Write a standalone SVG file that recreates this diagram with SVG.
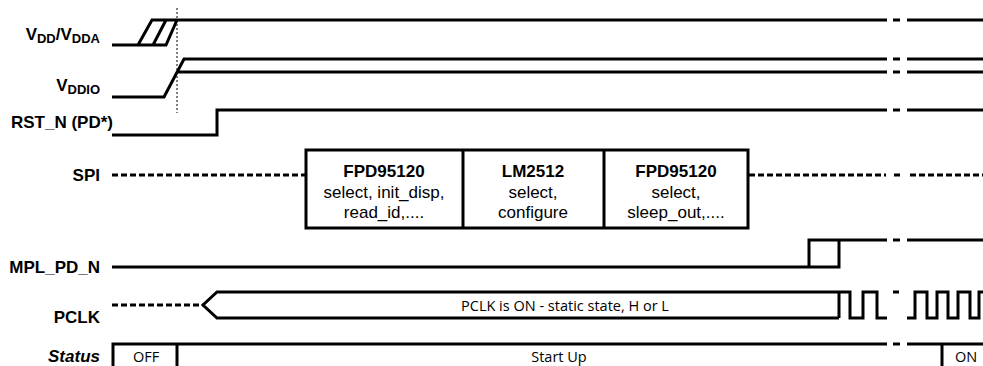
<svg xmlns="http://www.w3.org/2000/svg" width="983" height="366" viewBox="0 0 983 366">
<style>
.w{fill:none;stroke:#000;stroke-width:3;stroke-linejoin:miter}
.d{fill:none;stroke:#000;stroke-width:3;stroke-dasharray:6 3}
.lab{font-family:"Liberation Sans",Arial,sans-serif;font-weight:bold;font-size:17px;fill:#000}
.bt{font-family:"Liberation Sans",Arial,sans-serif;font-weight:bold;font-size:17px;fill:#000;text-anchor:middle}
.nt{font-family:"Liberation Sans",Arial,sans-serif;font-size:17px;fill:#000;text-anchor:middle}
.ct{font-family:"Open Sans","Liberation Sans",sans-serif;font-size:14.5px;fill:#000;text-anchor:middle}
</style>
<rect width="983" height="366" fill="#fff"/>
<g id="labels">
<text class="lab" x="100" y="40" text-anchor="end">V<tspan font-size="13" dy="3">DD</tspan><tspan dy="-3">/V</tspan><tspan font-size="13" dy="3">DDA</tspan></text>
<text class="lab" x="100" y="91" text-anchor="end">V<tspan font-size="13" dy="3">DDIO</tspan></text>
<text class="lab" x="113" y="128" text-anchor="end">RST_N (PD*)</text>
<text class="lab" x="100" y="181" text-anchor="end">SPI</text>
<text class="lab" x="100" y="273" text-anchor="end">MPL_PD_N</text>
<text class="lab" x="100" y="323" text-anchor="end">PCLK</text>
<text class="lab" x="100" y="362" text-anchor="end" font-style="italic">Status</text>
</g>
<g id="connectors">
<line x1="177" y1="8" x2="177" y2="113" stroke="#000" stroke-width="1" stroke-dasharray="2 2"/>
</g>
<g id="vdd">
<path class="w" d="M112 45H166L177 20H887M138 45L152 20H177M153 45L166 20"/>
<path class="w" d="M893 20H900M907 20H983"/>
</g>
<g id="vddio">
<path class="w" d="M112 97H164L184 59H887M177 72H887"/>
<path class="w" d="M893 59H900M907 59H983M893 72H900M907 72H983"/>
</g>
<g id="rst">
<path class="w" d="M112 135H217V110H887M893 110H900M907 110H983"/>
</g>
<g id="spi">
<line class="d" x1="112" y1="175" x2="306" y2="175"/>
<line class="d" x1="749" y1="175" x2="886" y2="175"/>
<line class="d" x1="894" y1="175" x2="900" y2="175" stroke-dasharray="1.5 2.5"/>
<line class="d" x1="910" y1="175" x2="983" y2="175"/>
<rect class="w" x="306" y="150" width="442" height="78"/>
<line class="w" x1="463" y1="150" x2="463" y2="228"/>
<line class="w" x1="604" y1="150" x2="604" y2="228"/>
<text class="bt" x="384" y="177">FPD95120</text>
<text class="nt" x="384" y="198">select, init_disp,</text>
<text class="nt" x="384" y="218">read_id,....</text>
<text class="bt" x="533" y="177">LM2512</text>
<text class="nt" x="533" y="198">select,</text>
<text class="nt" x="533" y="218">configure</text>
<text class="bt" x="676" y="177">FPD95120</text>
<text class="nt" x="676" y="198">select,</text>
<text class="nt" x="676" y="218">sleep_out,....</text>
</g>
<g id="mpl">
<path class="w" d="M112 267H839V240H887M809 267V240H839M893 240H900M907 240H983"/>
</g>
<g id="pclk">
<line class="d" x1="112" y1="305" x2="203" y2="305" stroke-dasharray="6 4"/>
<path class="w" d="M839 318H217L203 305L217 292H850V318H863V292H877V318H887"/>
<path class="w" d="M839 292V318"/>
<path class="w" d="M893 292H899M907 318H915V292H927V318H937V292H948V318H958V292H970V318H979V292H983"/>
<text class="ct" x="565" y="311">PCLK is ON - static state, H or L</text>
</g>
<g id="status">
<path class="w" d="M113 366V344H887M177 344V366M893 344H900M907 344H983M942 344V366"/>
<text class="ct" x="146" y="362" font-size="15">OFF</text>
<text class="ct" x="559" y="362" font-size="15">Start Up</text>
<text class="ct" x="966" y="362" font-size="15">ON</text>
</g>
</svg>
